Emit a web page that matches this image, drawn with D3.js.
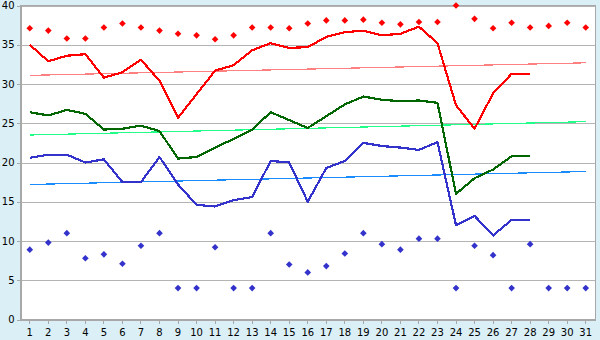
<!DOCTYPE html>
<html>
<head>
<meta charset="utf-8">
<script src="https://cdn.jsdelivr.net/npm/d3@7"></script>
<style>
  body { margin: 0; background: #daeff6; }
  svg { display: block; }
  .axis text { font-family: "DejaVu Sans", Verdana, sans-serif; font-size: 10px; fill: #000; }
  .axis path, .axis line { stroke: #a8a8a8; shape-rendering: crispEdges; }
  .grid line { stroke: #b4b4b4; shape-rendering: crispEdges; }
  .grid path { display: none; }
</style>
</head>
<body>
<div id="chart"></div>
<script>
var days = d3.range(1, 32);
var yTicks = [0, 5, 10, 15, 20, 25, 30, 35, 40];

// daily lines (days 1-28)
var redLine = [35.0, 32.9, 33.6, 33.8, 30.8, 31.5, 33.1, 30.4, 25.7, 28.7, 31.7, 32.4, 34.3, 35.2,
  34.6, 34.7, 36.0, 36.6, 36.8, 36.2, 36.4, 37.3, 35.2, 27.3, 24.3, 28.8, 31.3, 31.3];
var greenLine = [26.4, 26.0, 26.7, 26.2, 24.2, 24.3, 24.7, 24.0, 20.5, 20.7, 21.9, 23.0, 24.2, 26.4,
  25.4, 24.4, 25.9, 27.4, 28.4, 28.0, 27.8, 27.9, 27.6, 16.0, 18.0, 19.1, 20.8, 20.8];
var blueLine = [20.6, 21.0, 21.0, 20.0, 20.4, 17.5, 17.5, 20.7, 17.2, 14.6, 14.4, 15.2, 15.6, 20.2,
  20.0, 15.0, 19.3, 20.2, 22.5, 22.1, 21.9, 21.6, 22.6, 12.0, 13.2, 10.7, 12.7, 12.7];

// markers (days 1-31)
var redDots = [37.1, 36.8, 35.8, 35.8, 37.2, 37.7, 37.2, 36.8, 36.4, 36.2, 35.7, 36.2, 37.2, 37.2,
  37.1, 37.7, 38.1, 38.1, 38.2, 37.8, 37.6, 37.9, 37.9, 40.0, 38.3, 37.1, 37.8, 37.2, 37.4, 37.8, 37.2];
var blueDots = [8.9, 9.8, 11.0, 7.8, 8.3, 7.1, 9.4, 11.0, 4.0, 4.0, 9.2, 4.0, 4.0, 11.0,
  7.0, 6.0, 6.8, 8.4, 11.0, 9.6, 8.9, 10.3, 10.3, 4.0, 9.4, 8.2, 4.0, 9.6, 4.0, 4.0, 4.0];

// trend lines, value at day 1 and day 31
var trendDays = [1, 31];
var redTrend = [31.1, 32.7];
var greenTrend = [23.5, 25.2];
var blueTrend = [17.2, 18.85];

var width = 600, height = 340;
var margin = {top: 5.5, right: 5, bottom: 20.5, left: 20.5};

var svg = d3.select("#chart").append("svg")
    .attr("width", width)
    .attr("height", height);

svg.append("rect")
    .attr("width", width).attr("height", height)
    .attr("fill", "#daeff6");

var x = d3.scaleBand()
    .domain(days)
    .range([margin.left, width - margin.right]);

var y = d3.scaleLinear()
    .domain([0, 40])
    .range([height - margin.bottom, margin.top]);

function cx(d) { return x(d) + x.bandwidth() / 2; }

// plot area
svg.append("rect")
    .attr("x", margin.left).attr("y", margin.top)
    .attr("width", width - margin.right - margin.left)
    .attr("height", height - margin.bottom - margin.top)
    .attr("fill", "#fff")
    .attr("stroke", "#a8a8a8")
    .style("shape-rendering", "crispEdges");

// gridlines
svg.append("g")
    .attr("class", "grid")
    .attr("transform", "translate(" + margin.left + ",0)")
    .call(d3.axisLeft(y).tickValues(yTicks)
        .tickSize(-(width - margin.right - margin.left))
        .tickFormat(""));

// trend lines
var trends = [
    {vals: redTrend, color: "#ff8080"},
    {vals: greenTrend, color: "#22ff88"},
    {vals: blueTrend, color: "#1a8cff"}
];
trends.forEach(function (t) {
    svg.append("line")
        .attr("x1", cx(trendDays[0]))
        .attr("x2", cx(trendDays[1]))
        .attr("y1", y(t.vals[0]))
        .attr("y2", y(t.vals[1]))
        .attr("stroke", t.color)
        .attr("stroke-width", 1.2)
        .style("shape-rendering", "crispEdges");
});

var line = d3.line()
    .x(function (d, i) { return cx(days[i]); })
    .y(function (d) { return y(d); });

var series = [
    {vals: redLine, color: "#ff0000"},
    {vals: greenLine, color: "#006600"},
    {vals: blueLine, color: "#3333cc"}
];
series.forEach(function (s) {
    svg.append("path")
        .datum(s.vals)
        .attr("fill", "none")
        .attr("stroke", s.color)
        .attr("stroke-width", 2.2)
        .attr("stroke-linejoin", "round")
        .style("shape-rendering", "crispEdges")
        .attr("d", line);
});

// diamond markers
var diamond = d3.symbol().type(d3.symbolDiamond2).size(28);
[{vals: redDots, color: "#ff0000"}, {vals: blueDots, color: "#3333cc"}].forEach(function (s) {
    svg.append("g").selectAll("path")
        .data(s.vals)
        .enter().append("path")
        .attr("d", diamond)
        .attr("fill", s.color)
        .attr("transform", function (d, i) {
            return "translate(" + cx(days[i]) + "," + y(d) + ")";
        });
});

// axes
svg.append("g")
    .attr("class", "axis")
    .attr("transform", "translate(" + margin.left + ",0)")
    .call(d3.axisLeft(y).tickValues(yTicks).tickSize(4).tickPadding(2).tickSizeOuter(0));

svg.append("g")
    .attr("class", "axis")
    .attr("transform", "translate(0," + (height - margin.bottom) + ")")
    .call(d3.axisBottom(x).tickSize(4).tickPadding(5).tickSizeOuter(0));
</script>
</body>
</html>
